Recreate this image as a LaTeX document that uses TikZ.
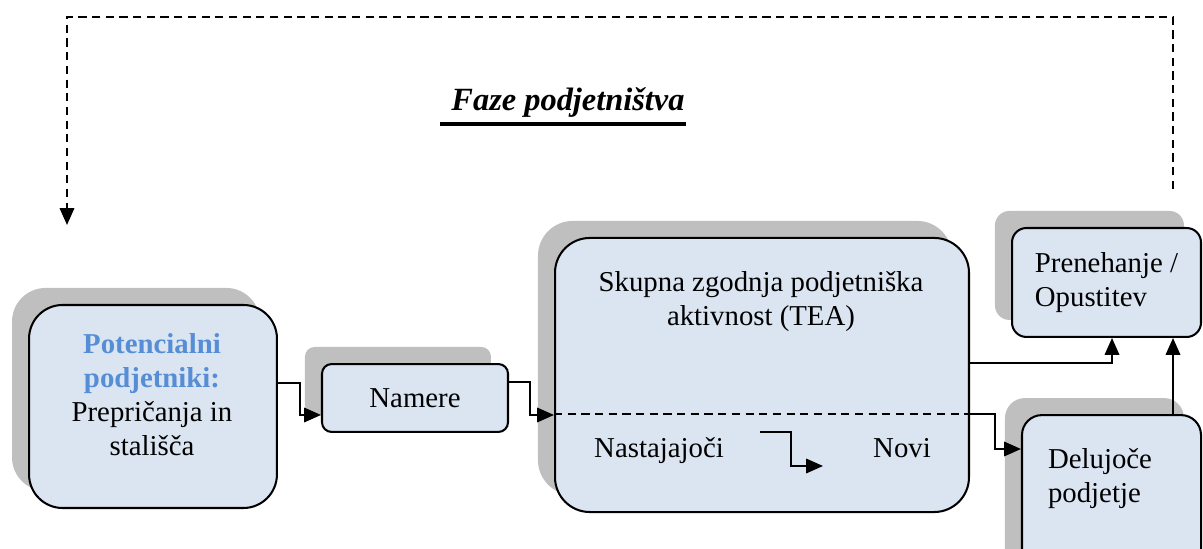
\documentclass[tikz,border=0pt]{standalone}
\usepackage{fontspec}
\setmainfont{Liberation Serif}
\usetikzlibrary{arrows.meta,shadows,calc}

\definecolor{phasefill}{HTML}{DBE5F1}
\definecolor{phaseshadow}{HTML}{BFBFBF}
\definecolor{potblue}{HTML}{558ED5}

\tikzset{
  phase/.style={draw, line width=0.85pt, fill=phasefill, rounded corners=#1, inner sep=0pt,
    drop shadow={shadow xshift=-7.1pt, shadow yshift=7.1pt, fill=phaseshadow, opacity=1}},
  phase/.default=6pt,
  conn/.style={line width=0.85pt, -{Triangle[length=7pt,width=6pt]}},
  feedback/.style={conn, dash pattern=on 3.4pt off 2.3pt},
  split/.style={line width=0.85pt, dash pattern=on 3.4pt off 2.3pt},
}

\begin{document}
\begin{tikzpicture}[x=0.4167pt, y=-0.4167pt, font=\fontsize{12}{14.2}\selectfont]
\useasboundingbox (0,0) rectangle (1203,549);
\clip (0,0) rectangle (1203,549);

% title
\node[inner sep=0pt, anchor=base, font=\fontsize{13.5}{16}\selectfont\bfseries\itshape] (title) at (568,111) {Faze podjetništva};
\draw[line width=1.3pt] ($(title.base west)+(-11,13)$) -- ($(title.base east)+(1,13)$);

% phases
\node[phase=14pt, minimum width=103.3pt, minimum height=84.6pt] (pot) at (153,406.5) {};
\node[align=center] (pottxt) at (152,395)
  {\textcolor{potblue}{\textbf{Potencialni}}\\\textcolor{potblue}{\textbf{podjetniki:}}\\Prepričanja in\\stališča};
\node[phase=4pt, minimum width=77.5pt, minimum height=28.3pt] (nam) at (415,398) {Namere};
\node[phase=14.5pt, minimum width=172.5pt, minimum height=114.2pt] (tea) at (762,375) {};
\node[align=center] (teatxt) at (761,302) {Skupna zgodnja podjetniška\\aktivnost (TEA)};
\node[anchor=base] (nast) at (659,458) {Nastajajoči};
\node[anchor=base] (novi) at (902,458) {Novi};
\node[phase=6pt, minimum width=78.75pt, minimum height=45.4pt, align=left] (pre) at (1106.5,282.5) {Prenehanje /\\Opustitev};
\node[phase=8.3pt, minimum width=74.6pt, minimum height=77pt] (del) at (1111.5,507.5) {};
\node[align=left] (deltxt) at (1100,479) {Delujoče\\podjetje};

% connectors
\draw[conn] (pot.east |- 0,383) -- (300,383) |- (nam.west |- 0,415);
\draw[conn] (nam.east |- 0,382) -- (530,382) |- (tea.west |- 0,415);
\draw[split] (tea.west |- 0,414) -- (tea.east |- 0,414);
\draw[conn] (tea.east |- 0,414) -- (995,414) |- (del.west |- 0,449);
\draw[conn] (tea.east |- 0,363) -| (pre.south -| 1112,0);
\draw[conn] (del.north -| 1173,0) -- (pre.south -| 1173,0);

\coordinate (nastout) at (760,432);
\coordinate (noviin) at (823,466);
\draw[conn] (nastout) -| (791,466) -- (noviin);

% feedback loop
\coordinate (fbstart) at (1173,189);
\coordinate (fbend) at (67,225);
\draw[feedback] (fbstart) |- (67,17) -- (fbend);
\end{tikzpicture}
\end{document}
